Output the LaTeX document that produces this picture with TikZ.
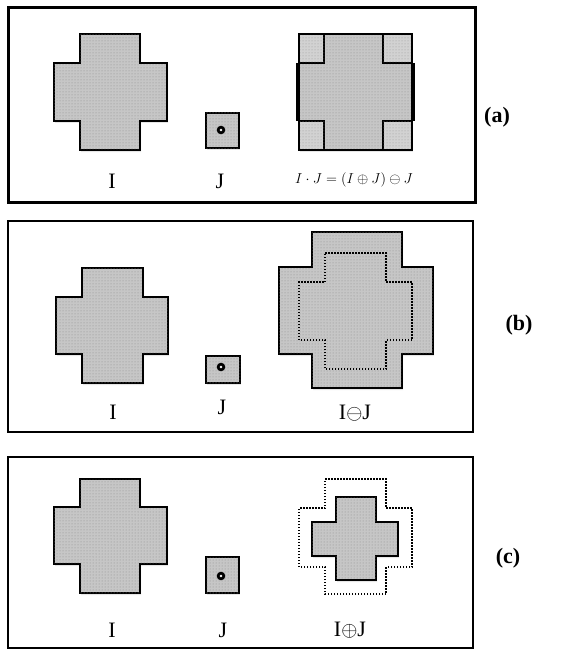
\documentclass[tikz,border=0pt]{standalone}
\usepackage{fontspec}
\setmainfont{Liberation Serif}
\usetikzlibrary{patterns,shadows}
\definecolor{stipple}{RGB}{198,198,198}
\definecolor{stipplelight}{RGB}{210,210,210}
\definecolor{ink}{RGB}{0,0,0}
% x1<x2<x3<x4 columns, y1<y2<y3<y4 rows (pixel axes, y downwards)
\newcommand{\crosspath}[8]{(#2,#5) -- (#3,#5) -- (#3,#6) -- (#4,#6) -- (#4,#7) -- (#3,#7) -- (#3,#8) -- (#2,#8) -- (#2,#7) -- (#1,#7) -- (#1,#6) -- (#2,#6) -- cycle}

\begin{document}
\begin{tikzpicture}[x=1pt,y=-1pt]
        \tikzstyle{panel}=[draw=ink,line width=2.6pt]
        \tikzstyle{blob}=[draw=ink,line width=1.5pt,fill=stipple,postaction={pattern=dots,pattern color=black!45},drop shadow={opacity=0.2,shadow xshift=1pt,shadow yshift=-2pt}]
        \tikzstyle{corner}=[draw=ink,line width=1.5pt,fill=stipplelight,postaction={pattern=dots,pattern color=black!40}]
        \tikzstyle{ghost}=[draw=ink,line width=1.5pt,dash pattern=on 1.5pt off 1.5pt]
        \tikzstyle{setlabel}=[inner sep=0pt,font=\fontsize{22}{26}\selectfont]
        \tikzstyle{tag}=[inner sep=0pt,font=\fontsize{22}{26}\selectfont\bfseries]
        \useasboundingbox (0,0) rectangle (568,650);
        % (a)
        \draw[panel,line width=3pt] (8,8) rectangle (475,202);
        \draw[blob] \crosspath{54}{80}{140}{167}{34}{63}{121}{150};
        \draw[blob] (206,113) rectangle (239,148);
        \fill[ink] (221,130) circle (4.3pt);
        \fill[white] (221,130) circle (1.3pt);
        \draw[blob] (299,34) rectangle (412,150);
        \draw[corner] (299,34) rectangle (324,63);
        \draw[corner] (383,34) rectangle (412,63);
        \draw[corner] (299,121) rectangle (324,150);
        \draw[corner] (383,121) rectangle (412,150);
        \draw[ink,line width=1.5pt] (299,34) rectangle (412,150);
        \draw[ink,line width=3.2pt] (298,63) -- (298,121);
        \draw[ink,line width=3.2pt] (413,63) -- (413,121);
        \node[setlabel] (ia) at (112,181) {I};
        \node[setlabel] (ja) at (220,181) {J};
        \node[inner sep=0pt,font=\fontsize{15.5}{18}\selectfont] (closea) at (354,180) {$I\cdot J=(I\oplus J)\ominus J$};
        \node[tag] (taga) at (497,117) {(a)};
        % (b)
        \draw[panel] (8,221) rectangle (473,432);
        \draw[blob] \crosspath{56}{82}{143}{168}{268}{297}{354}{383};
        \draw[blob] (206,356) rectangle (240,383);
        \fill[ink] (221,367) circle (4.3pt);
        \fill[white] (221,367) circle (1.3pt);
        \draw[blob] \crosspath{279}{312}{402}{433}{232}{267}{354}{388};
        \draw[ghost] \crosspath{299}{325}{386}{412}{253}{282}{340}{369};
        \node[setlabel] (ib) at (113,412) {I};
        \node[setlabel] (jb) at (222,407) {J};
        \node[setlabel] (erodeb) at (355,413) {I$\ominus$J};
        \node[tag] (tagb) at (519,325) {(b)};
        % (c)
        \draw[panel] (8,457) rectangle (473,648);
        \draw[blob] \crosspath{54}{80}{140}{167}{479}{507}{564}{593};
        \draw[blob] (206,557) rectangle (239,593);
        \fill[ink] (221,576) circle (4.3pt);
        \fill[white] (221,576) circle (1.3pt);
        \draw[ghost] \crosspath{299}{325}{386}{412}{479}{508}{567}{594};
        \draw[blob] \crosspath{312}{336}{376}{398}{497}{522}{556}{580};
        \node[setlabel] (ic) at (112,630) {I};
        \node[setlabel] (jc) at (223,630) {J};
        \node[setlabel] (dilatec) at (350,630) {I$\oplus$J};
        \node[tag] (tagc) at (508,558) {(c)};
      \end{tikzpicture}
\end{document}
